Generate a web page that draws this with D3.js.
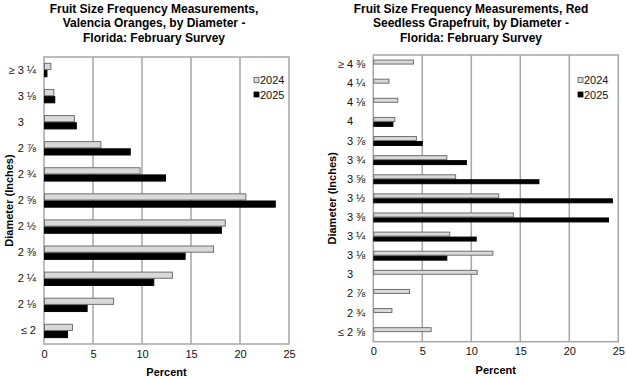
<!DOCTYPE html>
<html><head><meta charset="utf-8">
<script src="https://cdn.jsdelivr.net/npm/d3@7"></script>
<style>
body{margin:0;background:#fff;}
svg{font-family:"Liberation Sans",Arial,sans-serif;}
</style></head><body>
<svg id="c" width="626" height="378"></svg>
<script>
// ---- Data ----
const orangeCategories = ["≥ 3 ¼","3 ⅛","3\u00a0\u00a0\u00a0\u00a0","2 ⅞","2 ¾","2 ⅝","2 ½","2 ⅜","2 ¼","2 ⅛","≤ 2"];
const orange2024 = [0.7,1.0,3.1,5.8,9.8,20.6,18.5,17.3,13.1,7.1,2.9];
const orange2025 = [0.3,1.1,3.3,8.8,12.4,23.6,18.1,14.4,11.2,4.4,2.4];

const grapeCategories = ["≥ 4 ⅜","4 ¼","4 ⅛","4\u00a0\u00a0\u00a0\u00a0","3 ⅞","3 ¾","3 ⅝","3 ½","3 ⅜","3 ¼","3 ⅛","3\u00a0\u00a0\u00a0\u00a0","2 ⅞","2 ¾","≤ 2 ⅝"];
const grape2024 = [4.1,1.6,2.5,2.2,4.4,7.5,8.4,12.8,14.3,7.8,12.2,10.6,3.7,1.9,5.9];
const grape2025 = [0,0,0,2.0,5.0,9.5,16.9,24.4,24.0,10.5,7.5,0,0,0,0];

const xTicks = [0,5,10,15,20,25];
const seriesNames = ["2024","2025"];
const titleOrange = ["Fruit Size Frequency Measurements,","Valencia Oranges, by Diameter -","Florida: February Survey"];
const titleGrape = ["Fruit Size Frequency Measurements, Red","Seedless Grapefruit, by Diameter -","Florida: February Survey"];

const svg = d3.select("#c");
const fills = ["#d9d9d9","#000000"];
const strokes = ["#6f6f6f","#000000"];
const gridColor = "#a6a6a6";

function chart(o){
  const g = svg.append("g");
  const x = d3.scaleLinear().domain([0,25]).range([o.x0,o.x1]);
  const y = d3.scaleBand().domain(o.cats.map((d,i)=>i)).range([o.y0,o.y1]).paddingInner(o.pad).paddingOuter(o.pad/2);
  const sub = d3.scaleBand().domain([0,1]).range([0,y.bandwidth()]);

  // title
  g.append("text").attr("text-anchor","middle").attr("font-weight","bold").attr("font-size",12).attr("fill","#000")
    .selectAll("tspan").data(o.title).join("tspan")
    .attr("x",o.tx).attr("y",(d,i)=>13+i*14.3).text(d=>d);

  // gridlines
  g.append("g").selectAll("line").data(xTicks.slice(1,-1)).join("line")
    .attr("x1",d=>x(d)).attr("x2",d=>x(d)).attr("y1",o.y0).attr("y2",o.y1)
    .attr("stroke",gridColor).attr("stroke-width",1.5);
  g.append("rect").attr("x",o.x0).attr("y",o.y0).attr("width",o.x1-o.x0).attr("height",o.y1-o.y0)
    .attr("fill","none").attr("stroke",gridColor).attr("stroke-width",1.5);

  // bars
  [o.s1,o.s2].forEach((vals,si)=>{
    g.append("g").selectAll("rect").data(vals.map((v,i)=>({v,i})).filter(d=>d.v>0)).join("rect")
      .attr("x",x(0)+0.5).attr("y",d=>y(d.i)+sub(si)+0.5)
      .attr("width",d=>Math.max(0,x(d.v)-x(0)-0.5)).attr("height",sub.bandwidth()-1)
      .attr("fill",fills[si]).attr("stroke",strokes[si]).attr("stroke-width",1);
  });

  // x axis
  const xa = g.append("g").attr("transform",`translate(0,${o.y1})`)
    .call(d3.axisBottom(x).tickValues(xTicks).tickSize(0).tickPadding(6));
  xa.select(".domain").remove();
  xa.selectAll("text").attr("font-size",11).attr("fill","#111").attr("font-family","Liberation Sans, Arial, sans-serif");

  // y axis labels
  const ya = g.append("g").attr("transform",`translate(${o.x0},0)`)
    .call(d3.axisLeft(y).tickFormat(i=>o.cats[i]).tickSize(0).tickPadding(8));
  ya.select(".domain").remove();
  ya.selectAll("text").attr("font-size",11).attr("fill","#111").attr("font-family","Liberation Sans, Arial, sans-serif");

  // axis titles
  g.append("text").attr("x",(o.x0+o.x1)/2).attr("y",o.xty).attr("text-anchor","middle")
    .attr("font-weight","bold").attr("font-size",11).text("Percent");
  g.append("text").attr("transform",`translate(${o.ytx},${(o.y0+o.y1)/2}) rotate(-90)`)
    .attr("text-anchor","middle").attr("font-weight","bold").attr("font-size",11).text("Diameter (Inches)");

  // legend
  const lg = g.append("g");
  seriesNames.forEach((n,i)=>{
    lg.append("rect").attr("x",o.lx).attr("y",o.ly+i*14.5-2.5).attr("width",5).attr("height",5)
      .attr("fill",fills[i]).attr("stroke",i?"#000":"#595959").attr("stroke-width",0.8);
    lg.append("text").attr("x",o.lx+6).attr("y",o.ly+i*14.5+4).attr("font-size",11).attr("fill","#111").text(n);
  });
}

chart({cats:orangeCategories,s1:orange2024,s2:orange2025,x0:44,x1:289,y0:57,y1:344,pad:0.45,
  title:titleOrange,tx:154,xty:376,ytx:13,lx:254,ly:80});
chart({cats:grapeCategories,s1:grape2024,s2:grape2025,x0:373.3,x1:618.3,y0:55,y1:341.7,pad:0.48,
  title:titleGrape,tx:471,xty:374,ytx:336,lx:578,ly:80});
</script>
</body></html>
